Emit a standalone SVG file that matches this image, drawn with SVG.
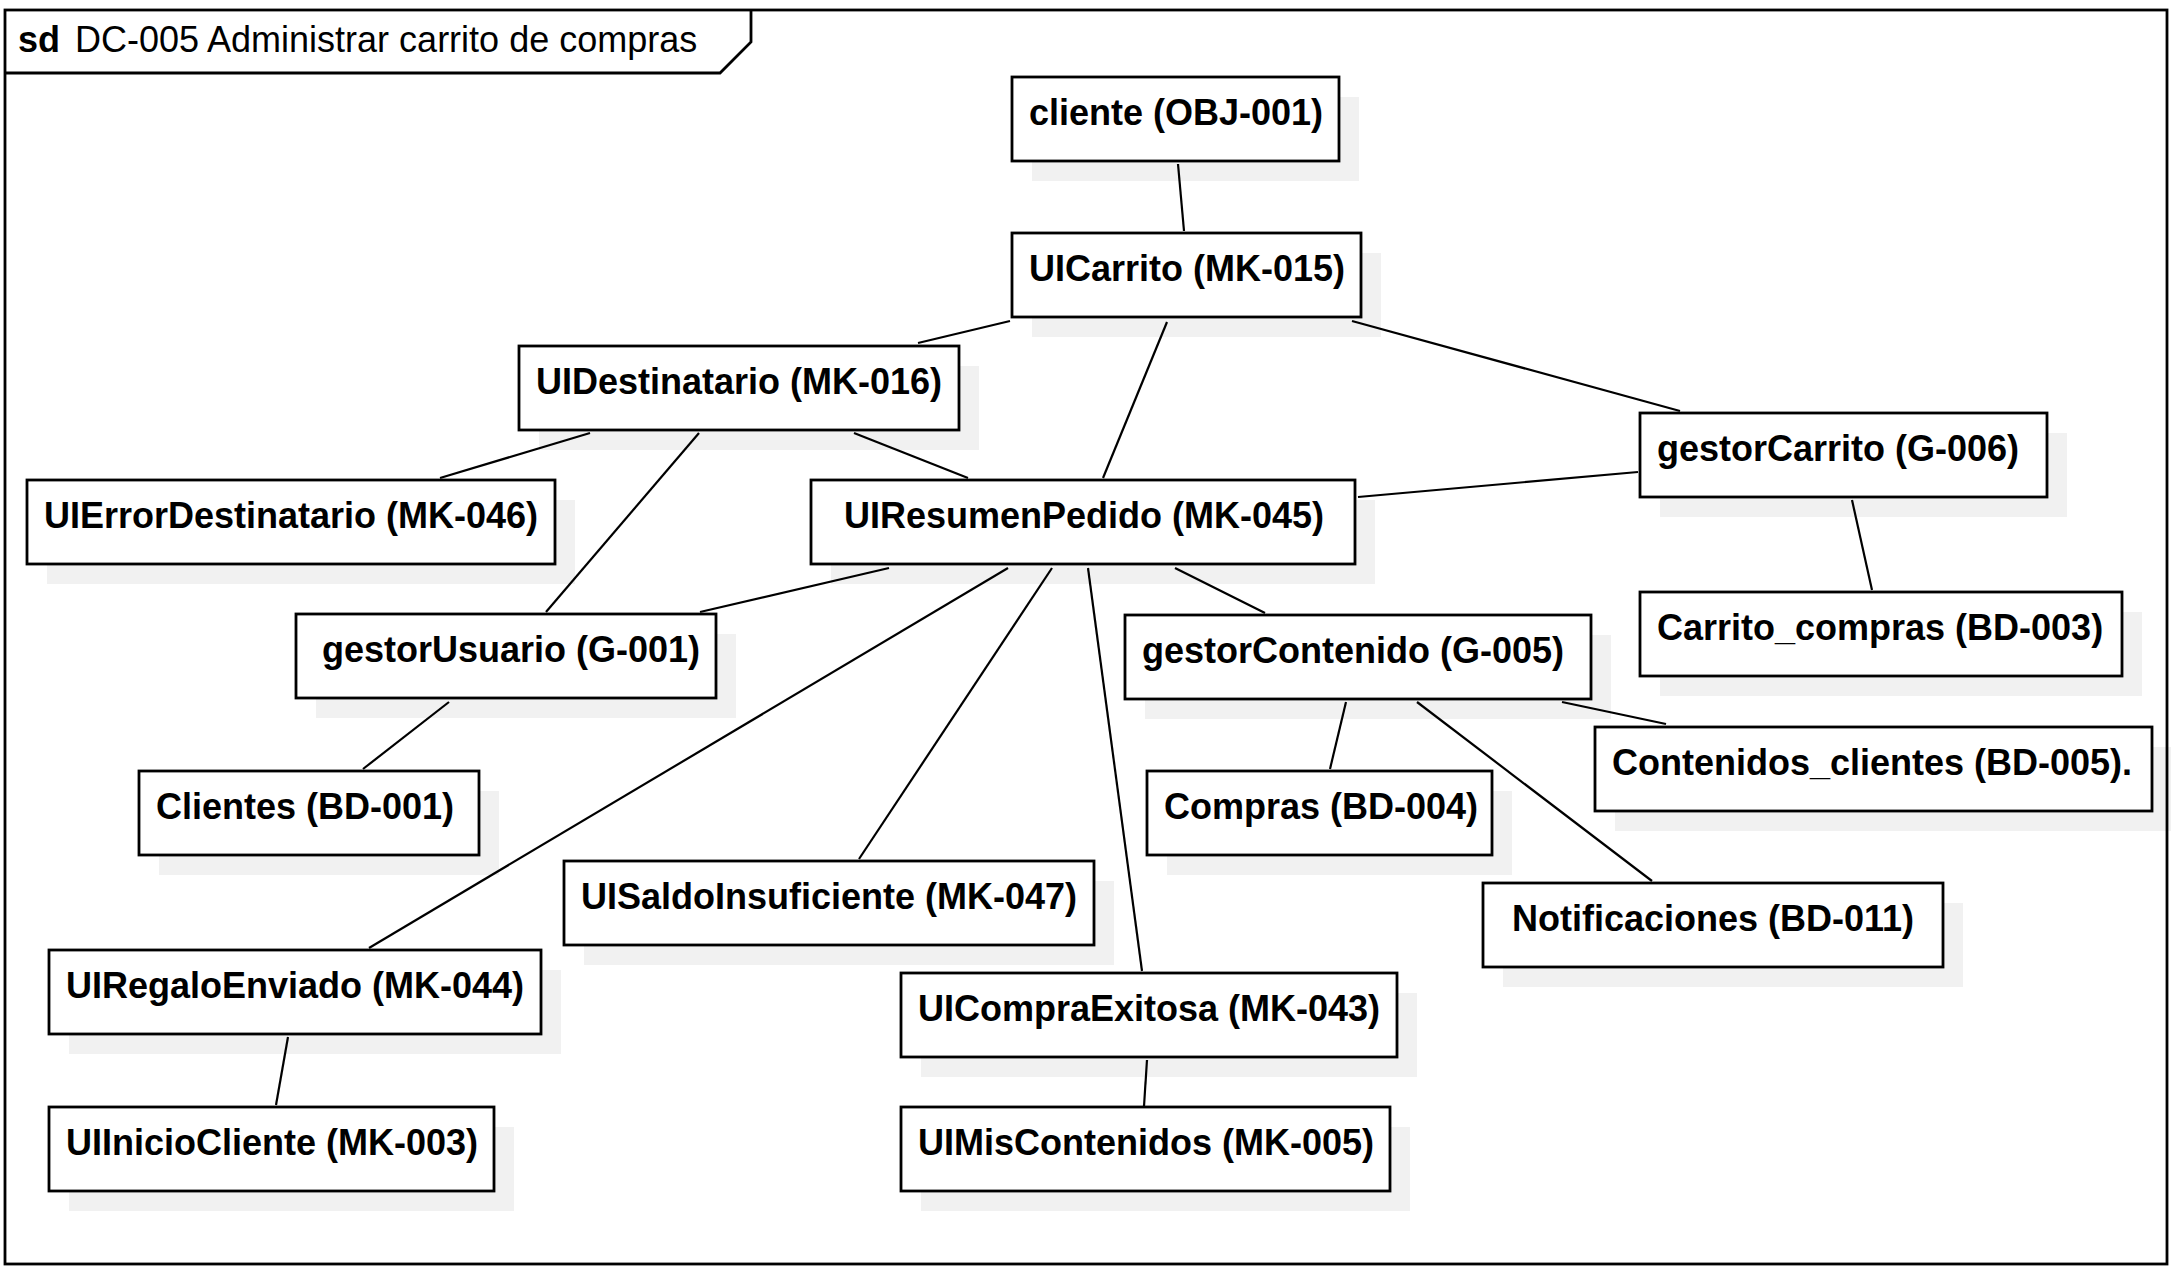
<svg xmlns="http://www.w3.org/2000/svg" width="2171" height="1276" viewBox="0 0 2171 1276">
<style>
.shadow{fill:#f1f1f1;stroke:none}
.box{fill:#ffffff;stroke:#000000;stroke-width:2.8}
.lbl{font-family:"Liberation Sans",Arial,sans-serif;font-weight:bold;font-size:36px;fill:#000000}
.mid{text-anchor:middle}
.conn line{stroke:#000000;stroke-width:2.2;fill:none}
.frame{fill:none;stroke:#000000;stroke-width:2.8}
.title{font-family:"Liberation Sans",Arial,sans-serif;font-size:36px;fill:#000000}
</style>
<rect x="0" y="0" width="2171" height="1276" fill="#ffffff"/>
<g id="n-cliente">
<rect class="shadow" x="1032" y="97" width="327" height="84"/>
<rect class="box" x="1012" y="77" width="327" height="84"/>
<text class="lbl" x="1029" y="125">cliente (OBJ-001)</text>
</g>
<g id="n-uicarrito">
<rect class="shadow" x="1032" y="253" width="349" height="84"/>
<rect class="box" x="1012" y="233" width="349" height="84"/>
<text class="lbl" x="1029" y="281">UICarrito (MK-015)</text>
</g>
<g id="n-uidestinatario">
<rect class="shadow" x="539" y="366" width="440" height="84"/>
<rect class="box" x="519" y="346" width="440" height="84"/>
<text class="lbl" x="536" y="394">UIDestinatario (MK-016)</text>
</g>
<g id="n-gestorcarrito">
<rect class="shadow" x="1660" y="433" width="407" height="84"/>
<rect class="box" x="1640" y="413" width="407" height="84"/>
<text class="lbl" x="1657" y="461">gestorCarrito (G-006)</text>
</g>
<g id="n-uierrordestinatario">
<rect class="shadow" x="47" y="500" width="528" height="84"/>
<rect class="box" x="27" y="480" width="528" height="84"/>
<text class="lbl" x="44" y="528">UIErrorDestinatario (MK-046)</text>
</g>
<g id="n-uiresumenpedido">
<rect class="shadow" x="831" y="500" width="544" height="84"/>
<rect class="box" x="811" y="480" width="544" height="84"/>
<text class="lbl mid" x="1084" y="528">UIResumenPedido (MK-045)</text>
</g>
<g id="n-gestorusuario">
<rect class="shadow" x="316" y="634" width="420" height="84"/>
<rect class="box" x="296" y="614" width="420" height="84"/>
<text class="lbl" x="322" y="662">gestorUsuario (G-001)</text>
</g>
<g id="n-gestorcontenido">
<rect class="shadow" x="1145" y="635" width="466" height="84"/>
<rect class="box" x="1125" y="615" width="466" height="84"/>
<text class="lbl" x="1142" y="663">gestorContenido (G-005)</text>
</g>
<g id="n-carritocompras">
<rect class="shadow" x="1660" y="612" width="482" height="84"/>
<rect class="box" x="1640" y="592" width="482" height="84"/>
<text class="lbl" x="1657" y="640">Carrito_compras (BD-003)</text>
</g>
<g id="n-clientes">
<rect class="shadow" x="159" y="791" width="340" height="84"/>
<rect class="box" x="139" y="771" width="340" height="84"/>
<text class="lbl" x="156" y="819">Clientes (BD-001)</text>
</g>
<g id="n-compras">
<rect class="shadow" x="1167" y="791" width="345" height="84"/>
<rect class="box" x="1147" y="771" width="345" height="84"/>
<text class="lbl" x="1164" y="819">Compras (BD-004)</text>
</g>
<g id="n-contenidosclientes">
<rect class="shadow" x="1615" y="747" width="556" height="84"/>
<rect class="box" x="1595" y="727" width="557" height="84"/>
<text class="lbl" x="1612" y="775">Contenidos_clientes (BD-005).</text>
</g>
<g id="n-uisaldoinsuficiente">
<rect class="shadow" x="584" y="881" width="530" height="84"/>
<rect class="box" x="564" y="861" width="530" height="84"/>
<text class="lbl" x="581" y="909">UISaldoInsuficiente (MK-047)</text>
</g>
<g id="n-notificaciones">
<rect class="shadow" x="1503" y="903" width="460" height="84"/>
<rect class="box" x="1483" y="883" width="460" height="84"/>
<text class="lbl mid" x="1713" y="931">Notificaciones (BD-011)</text>
</g>
<g id="n-uiregaloenviado">
<rect class="shadow" x="69" y="970" width="492" height="84"/>
<rect class="box" x="49" y="950" width="492" height="84"/>
<text class="lbl" x="66" y="998">UIRegaloEnviado (MK-044)</text>
</g>
<g id="n-uicompraexitosa">
<rect class="shadow" x="921" y="993" width="496" height="84"/>
<rect class="box" x="901" y="973" width="496" height="84"/>
<text class="lbl" x="918" y="1021">UICompraExitosa (MK-043)</text>
</g>
<g id="n-uiiniciocliente">
<rect class="shadow" x="69" y="1127" width="445" height="84"/>
<rect class="box" x="49" y="1107" width="445" height="84"/>
<text class="lbl" x="66" y="1155">UIInicioCliente (MK-003)</text>
</g>
<g id="n-uimiscontenidos">
<rect class="shadow" x="921" y="1127" width="489" height="84"/>
<rect class="box" x="901" y="1107" width="489" height="84"/>
<text class="lbl" x="918" y="1155">UIMisContenidos (MK-005)</text>
</g>
<g id="connectors" class="conn">
<line x1="1178" y1="164" x2="1184" y2="231"/>
<line x1="1010" y1="321" x2="918" y2="343"/>
<line x1="1167" y1="322" x2="1103" y2="478"/>
<line x1="1352" y1="321" x2="1680" y2="411"/>
<line x1="590" y1="433" x2="440" y2="478"/>
<line x1="699" y1="433" x2="546" y2="612"/>
<line x1="854" y1="433" x2="968" y2="478"/>
<line x1="1638" y1="472" x2="1358" y2="497"/>
<line x1="1852" y1="500" x2="1872" y2="590"/>
<line x1="889" y1="568" x2="700" y2="612"/>
<line x1="1008" y1="568" x2="369" y2="948"/>
<line x1="1052" y1="568" x2="859" y2="859"/>
<line x1="1088" y1="568" x2="1142" y2="971"/>
<line x1="1175" y1="568" x2="1265" y2="613"/>
<line x1="449" y1="702" x2="363" y2="769"/>
<line x1="1346" y1="702" x2="1330" y2="769"/>
<line x1="1417" y1="702" x2="1652" y2="881"/>
<line x1="1562" y1="702" x2="1666" y2="724"/>
<line x1="288" y1="1037" x2="276" y2="1105"/>
<line x1="1147" y1="1060" x2="1144" y2="1106"/>
</g>
<g id="frame">
<rect class="frame" x="5" y="10" width="2162" height="1254"/>
<path class="frame" d="M5,73 H720 L751,42 V10"/>
<text class="title" x="18" y="52"><tspan font-weight="bold">sd</tspan></text>
<text class="title" x="75" y="52">DC-005 Administrar carrito de compras</text>
</g>
</svg>
